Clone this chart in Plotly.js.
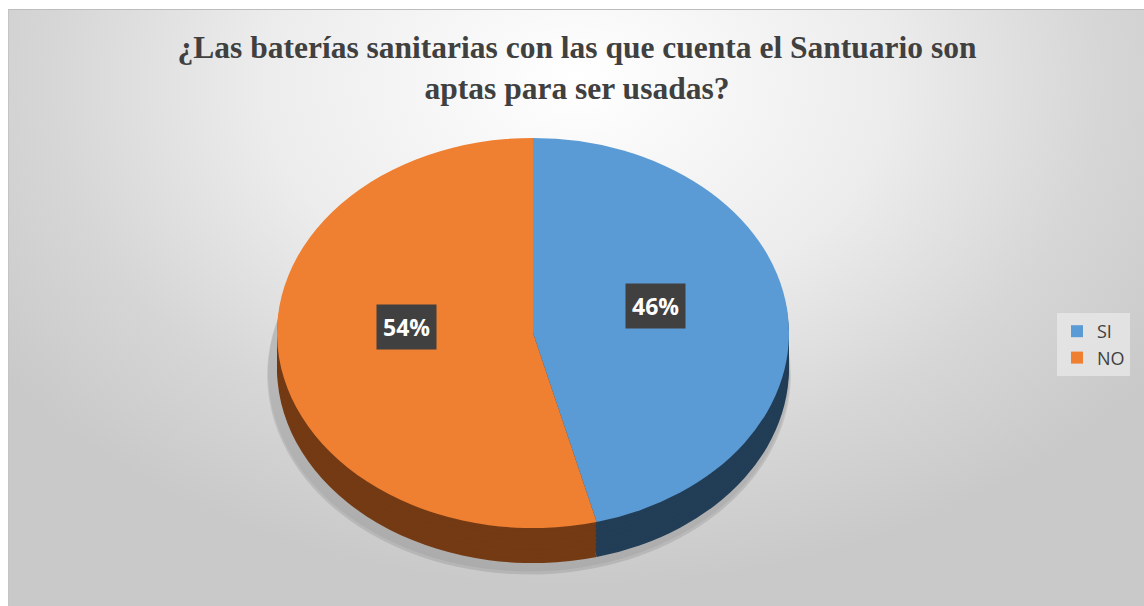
<!DOCTYPE html>
<html>
<head>
<meta charset="utf-8">
<script src="https://cdn.plot.ly/plotly-3.0.1.min.js"></script>
<style>
  html, body { margin: 0; padding: 0; width: 1144px; height: 606px; overflow: hidden; background: #ffffff; }
  #bg { position: absolute; left: 8px; top: 9px; width: 1136px; height: 597px;
        border-top: 1px solid #bdbdbd; border-left: 1px solid #c4c4c4; box-sizing: border-box;
        background: radial-gradient(ellipse 62% 85% at 50% 12%, #ffffff 0%, #ececec 45%, #d6d6d6 75%, #c9c9c9 100%); }
  #plot { position: absolute; left: 0; top: 0; width: 1144px; height: 650px; }
</style>
</head>
<body>
<div id="bg"></div>
<div id="plot"></div>
<script>
// ---- data ----
const labels = ['SI', 'NO'];
const values = [46, 54];
const topColors = ['#5b9bd5', '#ef7f31'];
const sideColors = ['#223d56', '#733a14'];
const titleText = '¿Las baterías sanitarias con las que cuenta el Santuario son<br>aptas para ser usadas?';

// ---- geometry (layout only) ----
const W = 1144, H = 650;
const cx = 533, cy = 333, r = 256;     // centre / radius before vertical squash
const squash = 0.762;                  // ellipse ratio
const depth = 46;                      // side depth (pre-squash px)
const step = 6;

function domainFor(off, rad, dx) {
  dx = dx || 0;
  return {
    x: [(cx + dx - rad) / W, (cx + dx + rad) / W],
    y: [1 - (cy + off + rad) / H, 1 - (cy + off - rad) / H]
  };
}

const traces = [];
// soft shadow (a few faint layers)
[[18, 14], [12, 9], [6, 5]].forEach(function (s) {
  traces.push({
    type: 'pie', labels: labels, values: values, sort: false, direction: 'clockwise',
    marker: { colors: labels.map(() => 'rgba(0,0,0,0.05)'), line: { width: 0 } },
    textinfo: 'none', hoverinfo: 'skip', showlegend: false,
    domain: domainFor(depth + s[0], r + s[1], -4)
  });
});
// extruded side
for (let d = depth; d > 0; d -= step) {
  traces.push({
    type: 'pie', labels: labels, values: values, sort: false, direction: 'clockwise',
    marker: { colors: sideColors, line: { width: 0 } },
    textinfo: 'none', hoverinfo: 'skip', showlegend: false,
    domain: domainFor(d, r)
  });
}
// top face
traces.push({
  type: 'pie', labels: labels, values: values, sort: false, direction: 'clockwise',
  marker: { colors: topColors, line: { width: 0 } },
  textinfo: 'none', hoverinfo: 'skip', showlegend: true,
  domain: domainFor(0, r)
});

const total = values.reduce((a, b) => a + b, 0);
const labelPos = [[655, 306], [406, 327]];
const annotations = values.map((v, i) => ({
  text: Math.round(v / total * 100) + '%',
  x: labelPos[i][0] / W, y: 1 - labelPos[i][1] / H, xref: 'paper', yref: 'paper',
  showarrow: false, bgcolor: '#404040', borderpad: 6,
  font: { family: 'Open Sans', size: 23, color: '#ffffff', weight: 'bold' }
}));

const layout = {
  width: W, height: H,
  margin: { l: 0, r: 0, t: 0, b: 0 },
  paper_bgcolor: 'rgba(0,0,0,0)', plot_bgcolor: 'rgba(0,0,0,0)',
  title: {
    text: titleText, x: 577 / W, xanchor: 'center', y: 1 - 58 / H, yanchor: 'top',
    font: { family: 'Liberation Serif', size: 31.5, color: '#404040', weight: 'bold' }
  },
  legend: {
    x: 1057 / W, y: 1 - 313 / H, xanchor: 'left', yanchor: 'top',
    bgcolor: 'rgba(235,235,235,0.7)', borderwidth: 0,
    font: { family: 'Open Sans', size: 18, color: '#404040' }
  },
  annotations: annotations
};

Plotly.newPlot('plot', traces, layout, { staticPlot: true, displayModeBar: false }).then(function (gd) {
  const pl = gd.querySelector('.pielayer');
  if (pl) {
    pl.setAttribute('transform', 'translate(0,' + cy + ') scale(1,' + squash + ') translate(0,' + (-cy) + ')');
  }
});
</script>
</body>
</html>
